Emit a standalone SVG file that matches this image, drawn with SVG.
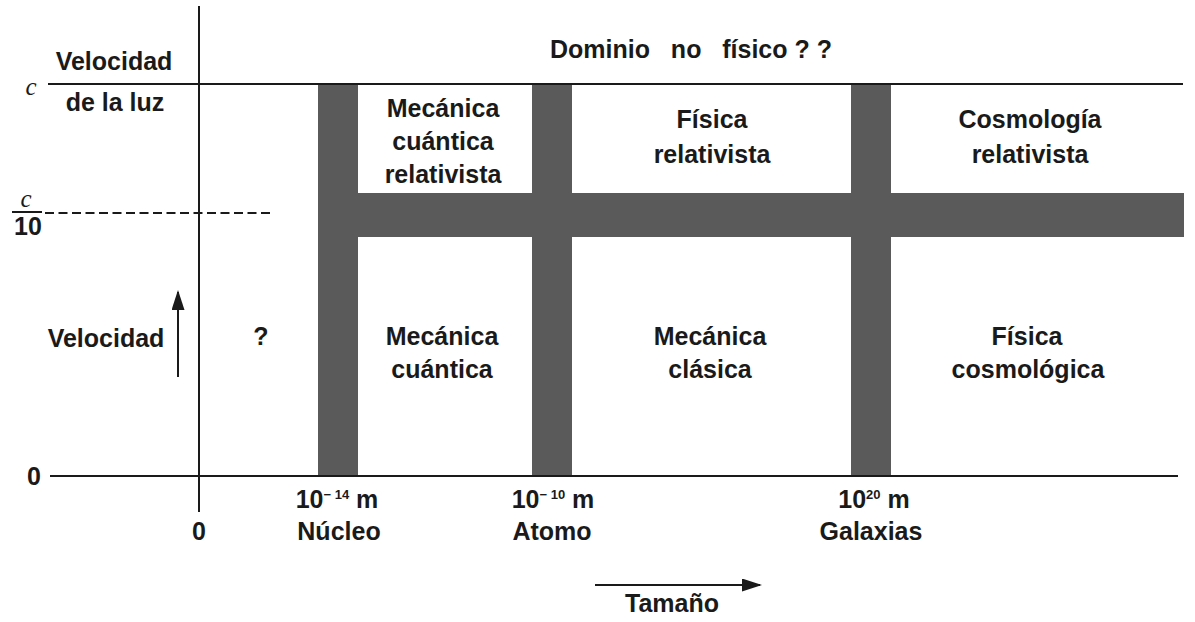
<svg xmlns="http://www.w3.org/2000/svg" width="1195" height="622" viewBox="0 0 1195 622">
  <style>
    .t { font-family: "Liberation Sans", Arial, sans-serif; font-weight: bold; font-size: 25px; fill: #1a1a1a; text-anchor: middle; }
    .ax { stroke: #1a1a1a; stroke-width: 2; fill: none; }
    .band { fill: #5a5a5a; }
    .c { font-family: "Liberation Serif", "Times New Roman", serif; font-style: italic; font-size: 25px; fill: #1a1a1a; text-anchor: middle; }
    .sup { font-size: 13px; }
  </style>
  <defs>
    <marker id="ah2" viewBox="0 0 10 10" refX="9" refY="5" markerWidth="20" markerHeight="13" markerUnits="userSpaceOnUse" orient="auto" preserveAspectRatio="none">
      <path d="M0,0 L10,5 L0,10 z" fill="#1a1a1a"/>
    </marker>
  </defs>
  <rect width="1195" height="622" fill="#ffffff"/>

  <g id="bands">
    <rect class="band" x="318" y="193" width="866" height="44"/>
    <rect class="band" x="318" y="84" width="40" height="392"/>
    <rect class="band" x="532" y="84" width="40" height="392"/>
    <rect class="band" x="851" y="84" width="40" height="392"/>
  </g>

  <g id="axes">
    <line class="ax" x1="199" y1="6" x2="199" y2="512"/>
    <line class="ax" x1="48" y1="84" x2="1183" y2="84"/>
    <line class="ax" x1="50" y1="476" x2="1178" y2="476"/>
    <line class="ax" x1="45" y1="213" x2="272" y2="213" stroke-dasharray="9 4.5"/>
    <line class="ax" x1="12" y1="212" x2="42" y2="212" stroke-width="1.5"/>
  </g>

  <g id="axis-labels">
    <text class="t" x="114" y="70">Velocidad</text>
    <text class="t" x="115" y="111">de la luz</text>
    <text class="c" x="31" y="95">c</text>
    <text class="c" x="26" y="207">c</text>
    <text class="t" x="28" y="235">10</text>
    <text class="t" x="106" y="347">Velocidad</text>
    <text class="t" x="34" y="485">0</text>
    <text class="t" x="199" y="540">0</text>
    <text class="t" x="337" y="508">10<tspan class="sup" dy="-9">− 14</tspan><tspan dy="9"> m</tspan></text>
    <text class="t" x="339" y="540">Núcleo</text>
    <text class="t" x="553" y="508">10<tspan class="sup" dy="-9">− 10</tspan><tspan dy="9"> m</tspan></text>
    <text class="t" x="552" y="540">Atomo</text>
    <text class="t" x="874" y="508">10<tspan class="sup" dy="-9">20</tspan><tspan dy="9"> m</tspan></text>
    <text class="t" x="871" y="540">Galaxias</text>
    <text class="t" x="672" y="612">Tamaño</text>
  </g>

  <g id="connectors">
    <line id="arrow-velocidad" class="ax" x1="178" y1="377" x2="178" y2="292" marker-end="url(#ah2)"/>
    <line id="arrow-tamano" class="ax" x1="595" y1="585" x2="760" y2="585" marker-end="url(#ah2)"/>
  </g>

  <g id="dominio-no-fisico">
    <text class="t" x="691" y="58" xml:space="preserve">Dominio   no   físico ? ?</text>
  </g>
  <g id="unknown">
    <text class="t" x="261" y="345">?</text>
  </g>
  <g id="mecanica-cuantica-relativista">
    <text class="t" x="443" y="117">Mecánica</text>
    <text class="t" x="443" y="150">cuántica</text>
    <text class="t" x="443" y="183">relativista</text>
  </g>
  <g id="fisica-relativista">
    <text class="t" x="712" y="128">Física</text>
    <text class="t" x="712" y="163">relativista</text>
  </g>
  <g id="cosmologia-relativista">
    <text class="t" x="1030" y="128">Cosmología</text>
    <text class="t" x="1030" y="163">relativista</text>
  </g>
  <g id="mecanica-cuantica">
    <text class="t" x="442" y="345">Mecánica</text>
    <text class="t" x="442" y="378">cuántica</text>
  </g>
  <g id="mecanica-clasica">
    <text class="t" x="710" y="345">Mecánica</text>
    <text class="t" x="710" y="378">clásica</text>
  </g>
  <g id="fisica-cosmologica">
    <text class="t" x="1027" y="345">Física</text>
    <text class="t" x="1028" y="378">cosmológica</text>
  </g>
</svg>
